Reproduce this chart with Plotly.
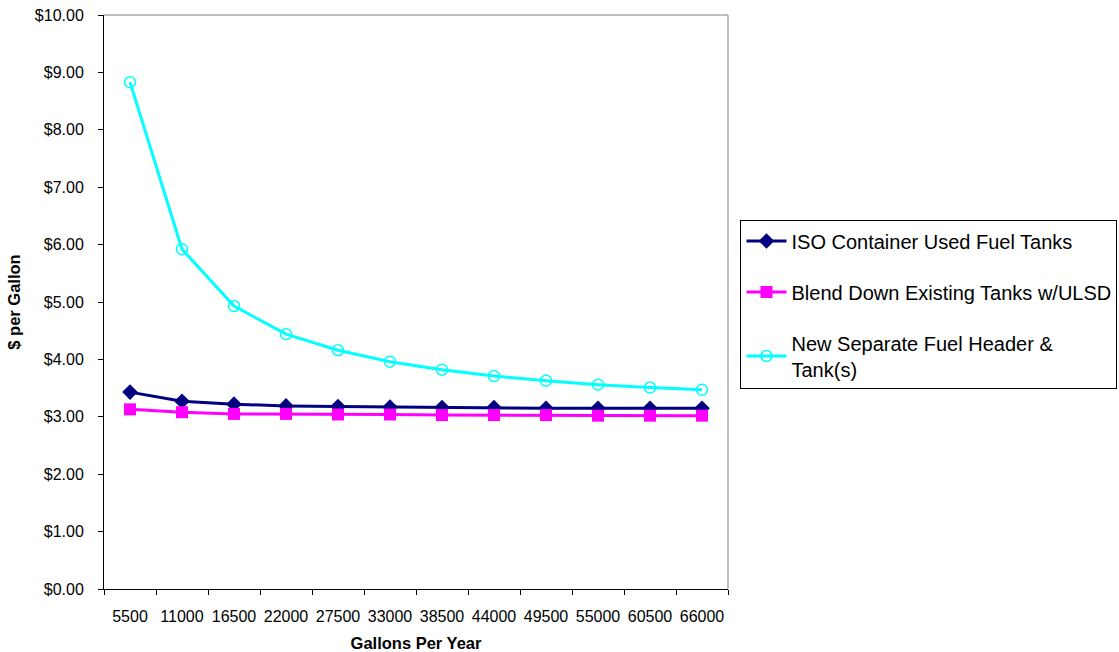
import plotly.graph_objects as go

gallons = ["5500", "11000", "16500", "22000", "27500", "33000",
           "38500", "44000", "49500", "55000", "60500", "66000"]
iso_container = [3.43, 3.27, 3.22, 3.19, 3.18, 3.17, 3.16, 3.16, 3.15, 3.15, 3.15, 3.15]
blend_down = [3.13, 3.08, 3.05, 3.05, 3.04, 3.04, 3.03, 3.03, 3.03, 3.02, 3.02, 3.02]
new_header = [8.83, 5.92, 4.93, 4.44, 4.16, 3.96, 3.82, 3.71, 3.63, 3.56, 3.51, 3.47]

FONT = "Liberation Sans, Arial, sans-serif"

fig = go.Figure()
fig.add_trace(go.Scatter(
    x=gallons, y=iso_container, mode="lines+markers",
    name="ISO Container Used Fuel Tanks", legendgroup="a",
    line=dict(color="#000080", width=3),
    marker=dict(symbol="diamond", size=12, color="#000080"),
))
fig.add_trace(go.Scatter(
    x=gallons, y=blend_down, mode="lines+markers",
    name="Blend Down Existing Tanks w/ULSD", legendgroup="b",
    line=dict(color="#FF00FF", width=3),
    marker=dict(symbol="square", size=12, color="#FF00FF"),
))
fig.add_trace(go.Scatter(
    x=gallons, y=new_header, mode="lines+markers",
    name="New Separate Fuel Header &<br>Tank(s)", legendgroup="c",
    line=dict(color="#00FFFF", width=3),
    marker=dict(symbol="circle-open", size=11, color="#00FFFF", line=dict(width=1.5)),
))

fig.update_layout(
    width=1119, height=652,
    margin=dict(l=104, r=391, t=15, b=63, autoexpand=False),
    paper_bgcolor="white", plot_bgcolor="white",
    font=dict(family=FONT, size=16, color="black"),
    showlegend=True,
    legend=dict(
        x=1.02, y=0.642, xanchor="left", yanchor="top",
        bordercolor="black", borderwidth=1,
        font=dict(family=FONT, size=20, color="black"),
        tracegroupgap=22, traceorder="grouped",
        itemwidth=40,
    ),
    xaxis=dict(
        type="category", range=[-0.5, 11.5], showgrid=False, automargin=False,
        showline=True, linecolor="black", linewidth=1,
        ticks="outside", ticklen=5, tickcolor="black", tickson="boundaries",
        tickangle=0, ticklabelstandoff=13,
        title=dict(text="<b>Gallons Per Year</b>", font=dict(size=16.5), standoff=14),
    ),
    yaxis=dict(
        range=[0, 10], dtick=1, showgrid=False, automargin=False,
        tickprefix="$", tickformat=".2f",
        showline=True, linecolor="black", linewidth=1,
        ticks="outside", ticklen=5, tickcolor="black",
        ticklabelstandoff=11,
        title=dict(text="<b>$ per Gallon</b>", font=dict(size=16.5), standoff=10),
    ),
    shapes=[
        dict(type="line", xref="paper", yref="paper", x0=0, x1=1, y0=1, y1=1,
             line=dict(color="#808080", width=1)),
        dict(type="line", xref="paper", yref="paper", x0=1, x1=1, y0=0, y1=1,
             line=dict(color="#808080", width=1)),
    ],
)

fig.write_html("out.html")
